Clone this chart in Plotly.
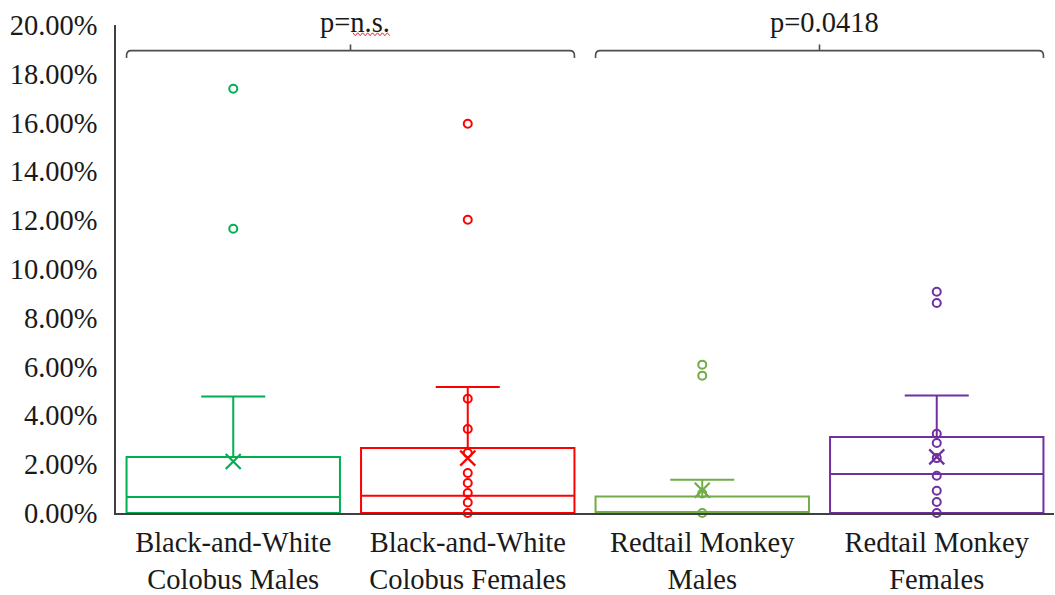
import plotly.graph_objects as go

# ---- data (values in percent) ----
categories = ["Black-and-White<br>Colobus Males", "Black-and-White<br>Colobus Females",
              "Redtail Monkey<br>Males", "Redtail Monkey<br>Females"]
colors = ["#00B050", "#FF0000", "#70AD47", "#7030A0"]
q1 = [0.0, 0.0, 0.0, 0.0]
median = [0.66, 0.71, 0.0, 1.60]
q3 = [2.30, 2.66, 0.68, 3.11]
lower_fence = [0.0, 0.0, 0.0, 0.0]
upper_fence = [4.77, 5.16, 1.36, 4.82]
means = [2.11, 2.25, 0.93, 2.30]
inner_points = [
    [],
    [4.68, 3.44, 2.46, 1.64, 1.23, 0.82, 0.43, 0.0],
    [0.80, 0.0],
    [3.25, 2.87, 2.25, 1.53, 0.91, 0.45, 0.0],
]
outliers = [
    [17.39, 11.65],
    [15.95, 12.02],
    [6.08, 5.63],
    [9.07, 8.61],
]
comparisons = [("p=n.s.", 0, 1), ("p=0.0418", 2, 3)]
y_ticks = [0, 2, 4, 6, 8, 10, 12, 14, 16, 18, 20]

FONT = "Liberation Serif, 'Times New Roman', Times, serif"
TEXT = "#1a1a1a"
FS = 28.5

fig = go.Figure()
for i, c in enumerate(categories):
    col = colors[i]
    fig.add_trace(go.Box(
        x=[i], q1=[q1[i] / 100], median=[median[i] / 100], q3=[q3[i] / 100],
        lowerfence=[lower_fence[i] / 100], upperfence=[upper_fence[i] / 100],
        width=0.91, whiskerwidth=0.3, boxpoints=False,
        line=dict(color=col, width=2), fillcolor="rgba(0,0,0,0)",
        showlegend=False, hoverinfo="skip"))
    pts = inner_points[i] + outliers[i]
    if pts:
        fig.add_trace(go.Scatter(
            x=[i] * len(pts), y=[p / 100 for p in pts], mode="markers",
            marker=dict(symbol="circle-open", size=8, color=col, line=dict(width=2, color=col)),
            cliponaxis=False, showlegend=False, hoverinfo="skip"))
    fig.add_trace(go.Scatter(
        x=[i], y=[means[i] / 100], mode="markers",
        marker=dict(symbol="x-thin-open", size=15, color=col, line=dict(width=2.2, color=col)),
        cliponaxis=False, showlegend=False, hoverinfo="skip"))

# significance brackets
shapes = []
annotations = []
half = 0.455
yh, ye, yt = 0.1895, 0.1865, 0.192
rx, ry = 0.02, 0.002
for label, a, b in comparisons:
    x0, x1 = a - half, b + half
    xc = (a + b) / 2
    path = (f"M {x0},{ye} L {x0},{yh - ry} Q {x0},{yh} {x0 + rx},{yh} "
            f"L {x1 - rx},{yh} Q {x1},{yh} {x1},{yh - ry} L {x1},{ye} "
            f"M {xc},{yh} L {xc},{yt}")
    shapes.append(dict(type="path", xref="x", yref="y", path=path,
                       line=dict(color="#4d4d4d", width=1.6)))
    annotations.append(dict(x=xc + 0.02, y=1.006, xref="x", yref="paper", text=label,
                            showarrow=False, yanchor="middle",
                            font=dict(family=FONT, size=FS, color=TEXT)))

# red spell-check squiggle under "n.s."
sq_x0, sq_x1, sq_y, amp, step = 0.51, 0.675, 0.981, 0.003, 0.0105
pts_path = []
xx = sq_x0
k = 0
while xx <= sq_x1 + 1e-9:
    yy = sq_y + (amp if k % 2 == 0 else -amp)
    pts_path.append(f"{'M' if k == 0 else 'L'} {xx:.4f},{yy:.4f}")
    xx += step
    k += 1
shapes.append(dict(type="path", xref="x", yref="paper", path=" ".join(pts_path),
                   line=dict(color="#e03030", width=1)))

fig.update_layout(
    width=1055, height=595, autosize=False,
    margin=dict(l=116, r=1, t=25, b=82),
    paper_bgcolor="white", plot_bgcolor="white",
    shapes=shapes, annotations=annotations,
    font=dict(family=FONT, size=FS, color=TEXT),
    xaxis=dict(range=[-0.5, 3.5], tickmode="array", tickvals=list(range(len(categories))),
               ticktext=categories, showline=True, linecolor="#404040", linewidth=1.5,
               showgrid=False, zeroline=False, ticks="", ticklabelstandoff=3,
               automargin=False,
               tickfont=dict(family=FONT, size=FS, color=TEXT)),
    yaxis=dict(range=[0, 0.2], tickmode="array", tickvals=[t / 100 for t in y_ticks],
               ticktext=[f"{t:.2f}%" for t in y_ticks], showline=True, linecolor="#404040",
               linewidth=1.5, showgrid=False, zeroline=False, ticks="", ticklabelstandoff=11,
               automargin=False,
               tickfont=dict(family=FONT, size=FS, color=TEXT)),
)

fig.write_html("out.html")
